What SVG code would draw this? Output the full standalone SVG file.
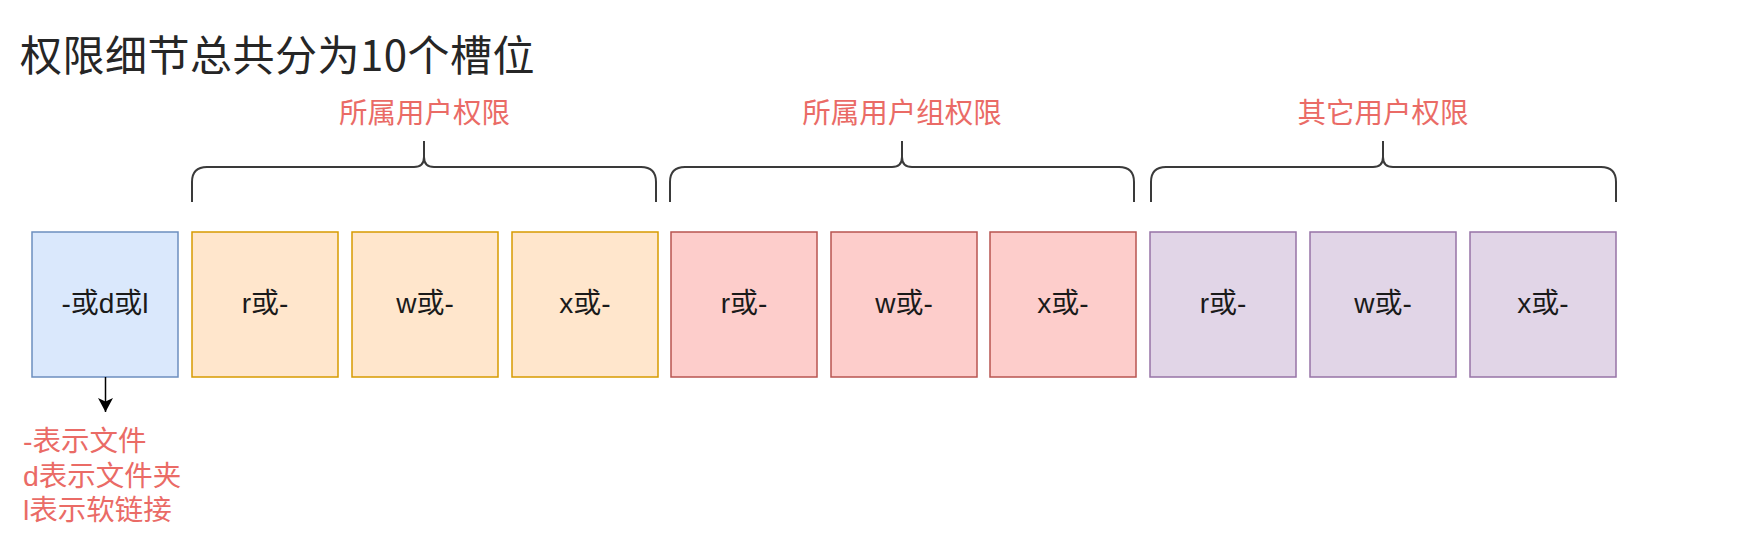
<svg xmlns="http://www.w3.org/2000/svg" width="1759" height="546" viewBox="0 0 1759 546">
  <style>
    .title { font-family: "Noto Sans CJK SC", "Liberation Sans", sans-serif; font-size: 42px; fill: #262626; letter-spacing: 0.5px; }
    .red { font-family: "Liberation Sans", "Noto Sans CJK SC", sans-serif; font-size: 28.5px; fill: #ea6b66; }
    .lbl { font-family: "Liberation Sans", "Noto Sans CJK SC", sans-serif; font-size: 28px; fill: #1a1a1a; text-anchor: middle; }
    .blue { fill: #dae8fc; stroke: #6c8ebf; stroke-width: 1.5; }
    .orange { fill: #ffe6cc; stroke: #d79b00; stroke-width: 1.5; }
    .pink { fill: #fdcdcb; stroke: #b85450; stroke-width: 1.5; }
    .purple { fill: #e1d5e7; stroke: #9673a6; stroke-width: 1.5; }
    .brace { fill: none; stroke: #3a3a3a; stroke-width: 2; }
    .conn { fill: none; stroke: #000; stroke-width: 1.5; }
  </style>
  <defs>
    <marker id="arrow" markerUnits="userSpaceOnUse" markerWidth="16" markerHeight="16" refX="14" refY="7.5" orient="auto">
      <path d="M0,0 L14,7.5 L0,15 L3.5,7.5 z" fill="#000"/>
    </marker>
  </defs>
  <rect width="1759" height="546" fill="#ffffff"/>

  <text id="title" class="title" x="20" y="70.5">权限细节总共分为10个槽位</text>

  <g id="group-labels">
    <text class="red" x="424.5" y="123" text-anchor="middle">所属用户权限</text>
    <text class="red" x="902" y="123" text-anchor="middle">所属用户组权限</text>
    <text class="red" x="1383" y="123" text-anchor="middle">其它用户权限</text>
  </g>

  <g id="braces">
    <path class="brace" d="M192,202 L192,182 Q192,167 207,167 L414,167 Q424,167 424,157 L424,141 M424,157 Q424,167 434,167 L641,167 Q656,167 656,182 L656,202"/>
    <path class="brace" d="M670,202 L670,182 Q670,167 685,167 L892,167 Q902,167 902,157 L902,141 M902,157 Q902,167 912,167 L1119,167 Q1134,167 1134,182 L1134,202"/>
    <path class="brace" d="M1151,202 L1151,182 Q1151,167 1166,167 L1373,167 Q1383,167 1383,157 L1383,141 M1383,157 Q1383,167 1393,167 L1601,167 Q1616,167 1616,182 L1616,202"/>
  </g>

  <g id="node-type">
    <rect class="blue" x="32" y="232" width="146" height="145"/>
    <text class="lbl" x="105" y="313">-或d或l</text>
  </g>
  <g id="node-user-r">
    <rect class="orange" x="192" y="232" width="146" height="145"/>
    <text class="lbl" x="265" y="313">r或-</text>
  </g>
  <g id="node-user-w">
    <rect class="orange" x="352" y="232" width="146" height="145"/>
    <text class="lbl" x="425" y="313">w或-</text>
  </g>
  <g id="node-user-x">
    <rect class="orange" x="512" y="232" width="146" height="145"/>
    <text class="lbl" x="585" y="313">x或-</text>
  </g>
  <g id="node-group-r">
    <rect class="pink" x="671" y="232" width="146" height="145"/>
    <text class="lbl" x="744" y="313">r或-</text>
  </g>
  <g id="node-group-w">
    <rect class="pink" x="831" y="232" width="146" height="145"/>
    <text class="lbl" x="904" y="313">w或-</text>
  </g>
  <g id="node-group-x">
    <rect class="pink" x="990" y="232" width="146" height="145"/>
    <text class="lbl" x="1063" y="313">x或-</text>
  </g>
  <g id="node-other-r">
    <rect class="purple" x="1150" y="232" width="146" height="145"/>
    <text class="lbl" x="1223" y="313">r或-</text>
  </g>
  <g id="node-other-w">
    <rect class="purple" x="1310" y="232" width="146" height="145"/>
    <text class="lbl" x="1383" y="313">w或-</text>
  </g>
  <g id="node-other-x">
    <rect class="purple" x="1470" y="232" width="146" height="145"/>
    <text class="lbl" x="1543" y="313">x或-</text>
  </g>

  <g id="connectors">
    <line class="conn" x1="105.5" y1="377" x2="105.5" y2="412" marker-end="url(#arrow)"/>
  </g>

  <g id="legend">
    <text class="red" x="23" y="451">-表示文件</text>
    <text class="red" x="23" y="485.5">d表示文件夹</text>
    <text class="red" x="23" y="520">l表示软链接</text>
  </g>
</svg>
